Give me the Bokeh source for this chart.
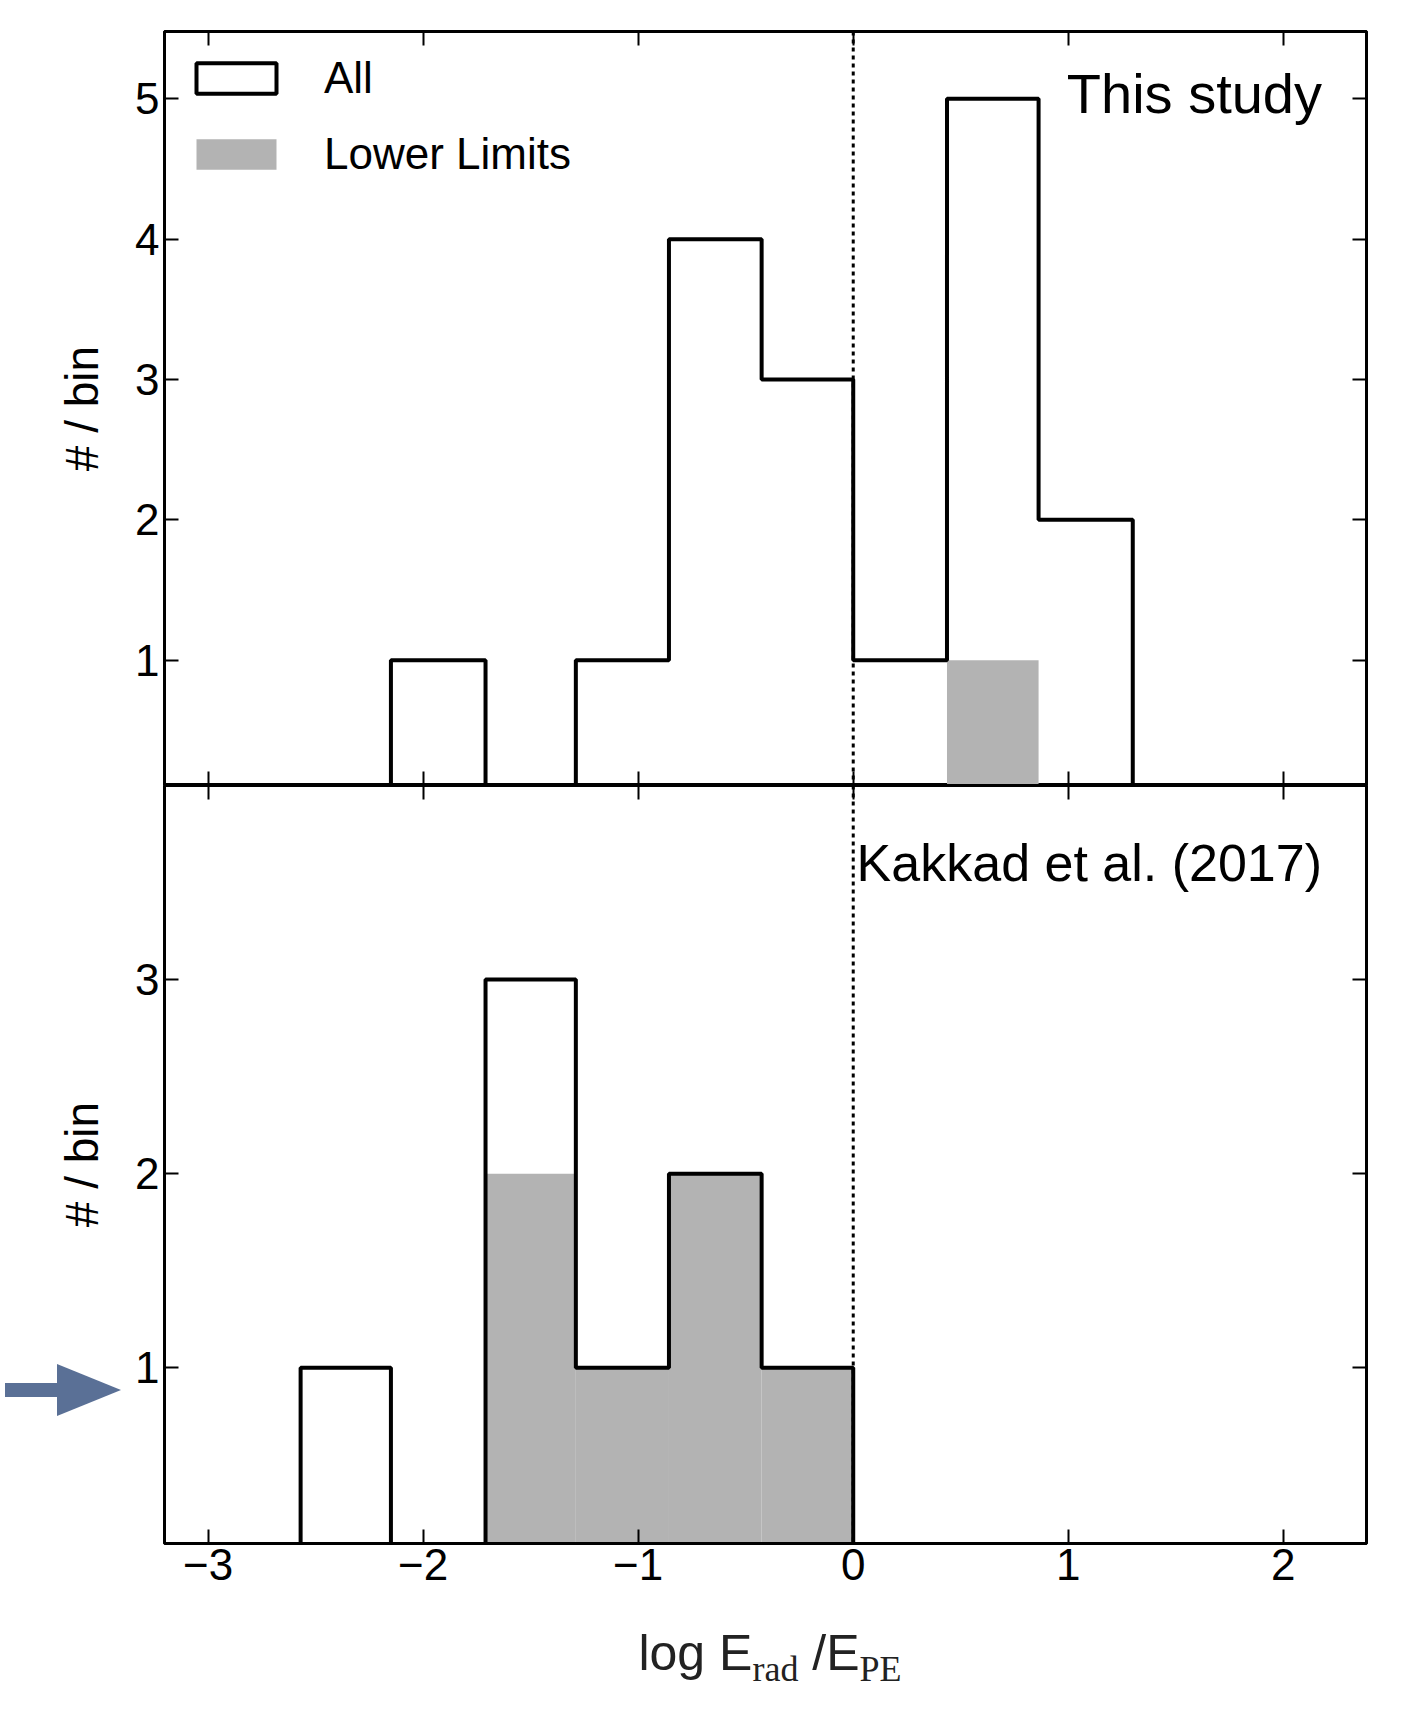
from bokeh.plotting import figure
from bokeh.layouts import column
from bokeh.models import (Label, Span, LinearAxis, Legend, LegendItem, FixedTicker,
                          CustomJSTickFormatter, Div)
from bokeh.embed import file_html
from bokeh.resources import INLINE

# bin edges and counts
top_edges = [-2.15, -1.71, -1.29, -0.857, -0.426, 0.0, 0.436, 0.862, 1.30]
top_all = [1, 0, 1, 4, 3, 1, 5, 2]
top_low = [0, 0, 0, 0, 0, 0, 1, 0]
bot_edges = [-2.57, -2.15, -1.71, -1.29, -0.857, -0.426, 0.0]
bot_all = [1, 0, 3, 1, 2, 1]
bot_low = [0, 0, 2, 1, 2, 1]
x_ticks = [-3, -2, -1, 0, 1, 2]

s = 1.09
FONT = "Liberation Sans"
XR = (-3.203, 2.387)
BLANK = CustomJSTickFormatter(code="return ''")
LEFT = round(150 * s)


def step(edges, counts):
    xs, ys = [edges[0]], [0]
    for i, c in enumerate(counts):
        xs += [edges[i], edges[i + 1]]
        ys += [c, c]
    xs.append(edges[-1])
    ys.append(0)
    return xs, ys


def make(height, yr, yticks, bt, bb):
    p = figure(width=round(1285 * s), height=height, x_range=XR, y_range=yr,
               output_backend="svg", toolbar_location=None, tools="",
               min_border_left=LEFT, min_border_right=round(32 * s),
               min_border_top=bt, min_border_bottom=bb)
    p.grid.visible = False
    p.outline_line_color = "black"
    p.outline_line_width = 3
    for ax in [p.xaxis[0], p.yaxis[0]]:
        ax.major_tick_in = 14
        ax.major_tick_out = 0
        ax.minor_tick_line_color = None
        ax.axis_line_width = 3
        ax.major_tick_line_width = 2
        ax.major_label_text_font = FONT
        ax.major_label_text_font_size = "44px"
        ax.major_label_text_color = "black"
    p.xaxis.ticker = FixedTicker(ticks=x_ticks)
    p.yaxis.ticker = FixedTicker(ticks=yticks)
    p.yaxis.axis_label = "# / bin"
    p.yaxis.axis_label_text_font = FONT
    p.yaxis.axis_label_text_font_style = "normal"
    p.yaxis.axis_label_text_font_size = "46px"
    p.yaxis.axis_label_text_color = "black"
    p.yaxis.axis_label_standoff = 24
    p.xaxis.major_label_overrides = {t: str(t).replace("-", "\u2212") for t in x_ticks}
    for side, kind in [("right", "y"), ("above", "x")]:
        ax = LinearAxis(ticker=FixedTicker(ticks=yticks if kind == "y" else x_ticks),
                        formatter=BLANK, major_label_standoff=0, major_tick_in=14,
                        major_tick_out=0, minor_tick_line_color=None,
                        axis_line_width=3, major_tick_line_width=2)
        p.add_layout(ax, side)
    p.add_layout(Span(location=0, dimension="height", line_color="black",
                      line_dash="4 4", line_width=3))
    return p


top = make(round(720 * s), (0.107, 5.48), [1, 2, 3, 4, 5], round(28 * s), 0)
for ax in top.below:
    ax.formatter = BLANK
    ax.major_label_overrides = {}
    ax.major_label_standoff = 0
lq = top.quad(left=top_edges[:-1], right=top_edges[1:], bottom=0, top=top_low,
              fill_color="#b3b3b3", line_color=None)
xs, ys = step(top_edges, top_all)
top.line(xs, ys, line_color="black", line_width=4)
dummy = top.quad(left=[0], right=[0], bottom=[0], top=[0], fill_color=None,
                 line_color="black", line_width=4)
leg = Legend(items=[LegendItem(label="All", renderers=[dummy]),
                    LegendItem(label="Lower Limits", renderers=[lq])],
             location="top_left", border_line_color=None, background_fill_alpha=0,
             glyph_width=100, glyph_height=38, label_text_font=FONT,
             label_text_font_size="44px", label_text_color="black",
             label_standoff=38, spacing=26, margin=22, padding=20)
top.add_layout(leg)
top.add_layout(Label(x=2.18, y=5.04, text="This study", text_align="right",
                     text_baseline="middle", text_font=FONT, text_font_size="56px",
                     text_color="black"))

bot = make(round(695 * s) + 70, (0.095, 4.0), [1, 2, 3], 0, 70)
bot.xaxis[0].major_label_standoff = 14
bot.quad(left=bot_edges[:-1], right=bot_edges[1:], bottom=0, top=bot_low,
         fill_color="#b3b3b3", line_color=None)
xs, ys = step(bot_edges, bot_all)
bot.line(xs, ys, line_color="black", line_width=4)
bot.add_layout(Label(x=2.18, y=3.6, text="Kakkad et al. (2017)", text_align="right",
                     text_baseline="middle", text_font=FONT, text_font_size="52px",
                     text_color="black"))

# x label, plus the blue arrow in the left margin (drawn with CSS)
arrow = ('<div style="position:absolute;left:0;top:-235px;width:62px;height:14px;'
         'background:#5a7096"></div>'
         '<div style="position:absolute;left:52px;top:-254px;width:0;height:0;'
         'border-top:26px solid transparent;border-bottom:26px solid transparent;'
         'border-left:64px solid #5a7096"></div>')
xlabel = Div(text=arrow + '<div style="width:%dpx;text-align:center;font-family:Liberation Sans;'
                  'font-size:50px;color:#222;margin-left:%dpx">log E<sub style="font-family:'
                  'Liberation Serif;font-size:36px">rad</sub> /E<sub style="font-family:'
                  'Liberation Serif;font-size:36px">PE</sub></div>' % (round(1103 * s), LEFT),
             width=round(1285 * s), height=80, styles={"overflow": "visible"})

layout = column(top, bot, xlabel, spacing=0)
open("out.html", "w").write(file_html(layout, INLINE))
